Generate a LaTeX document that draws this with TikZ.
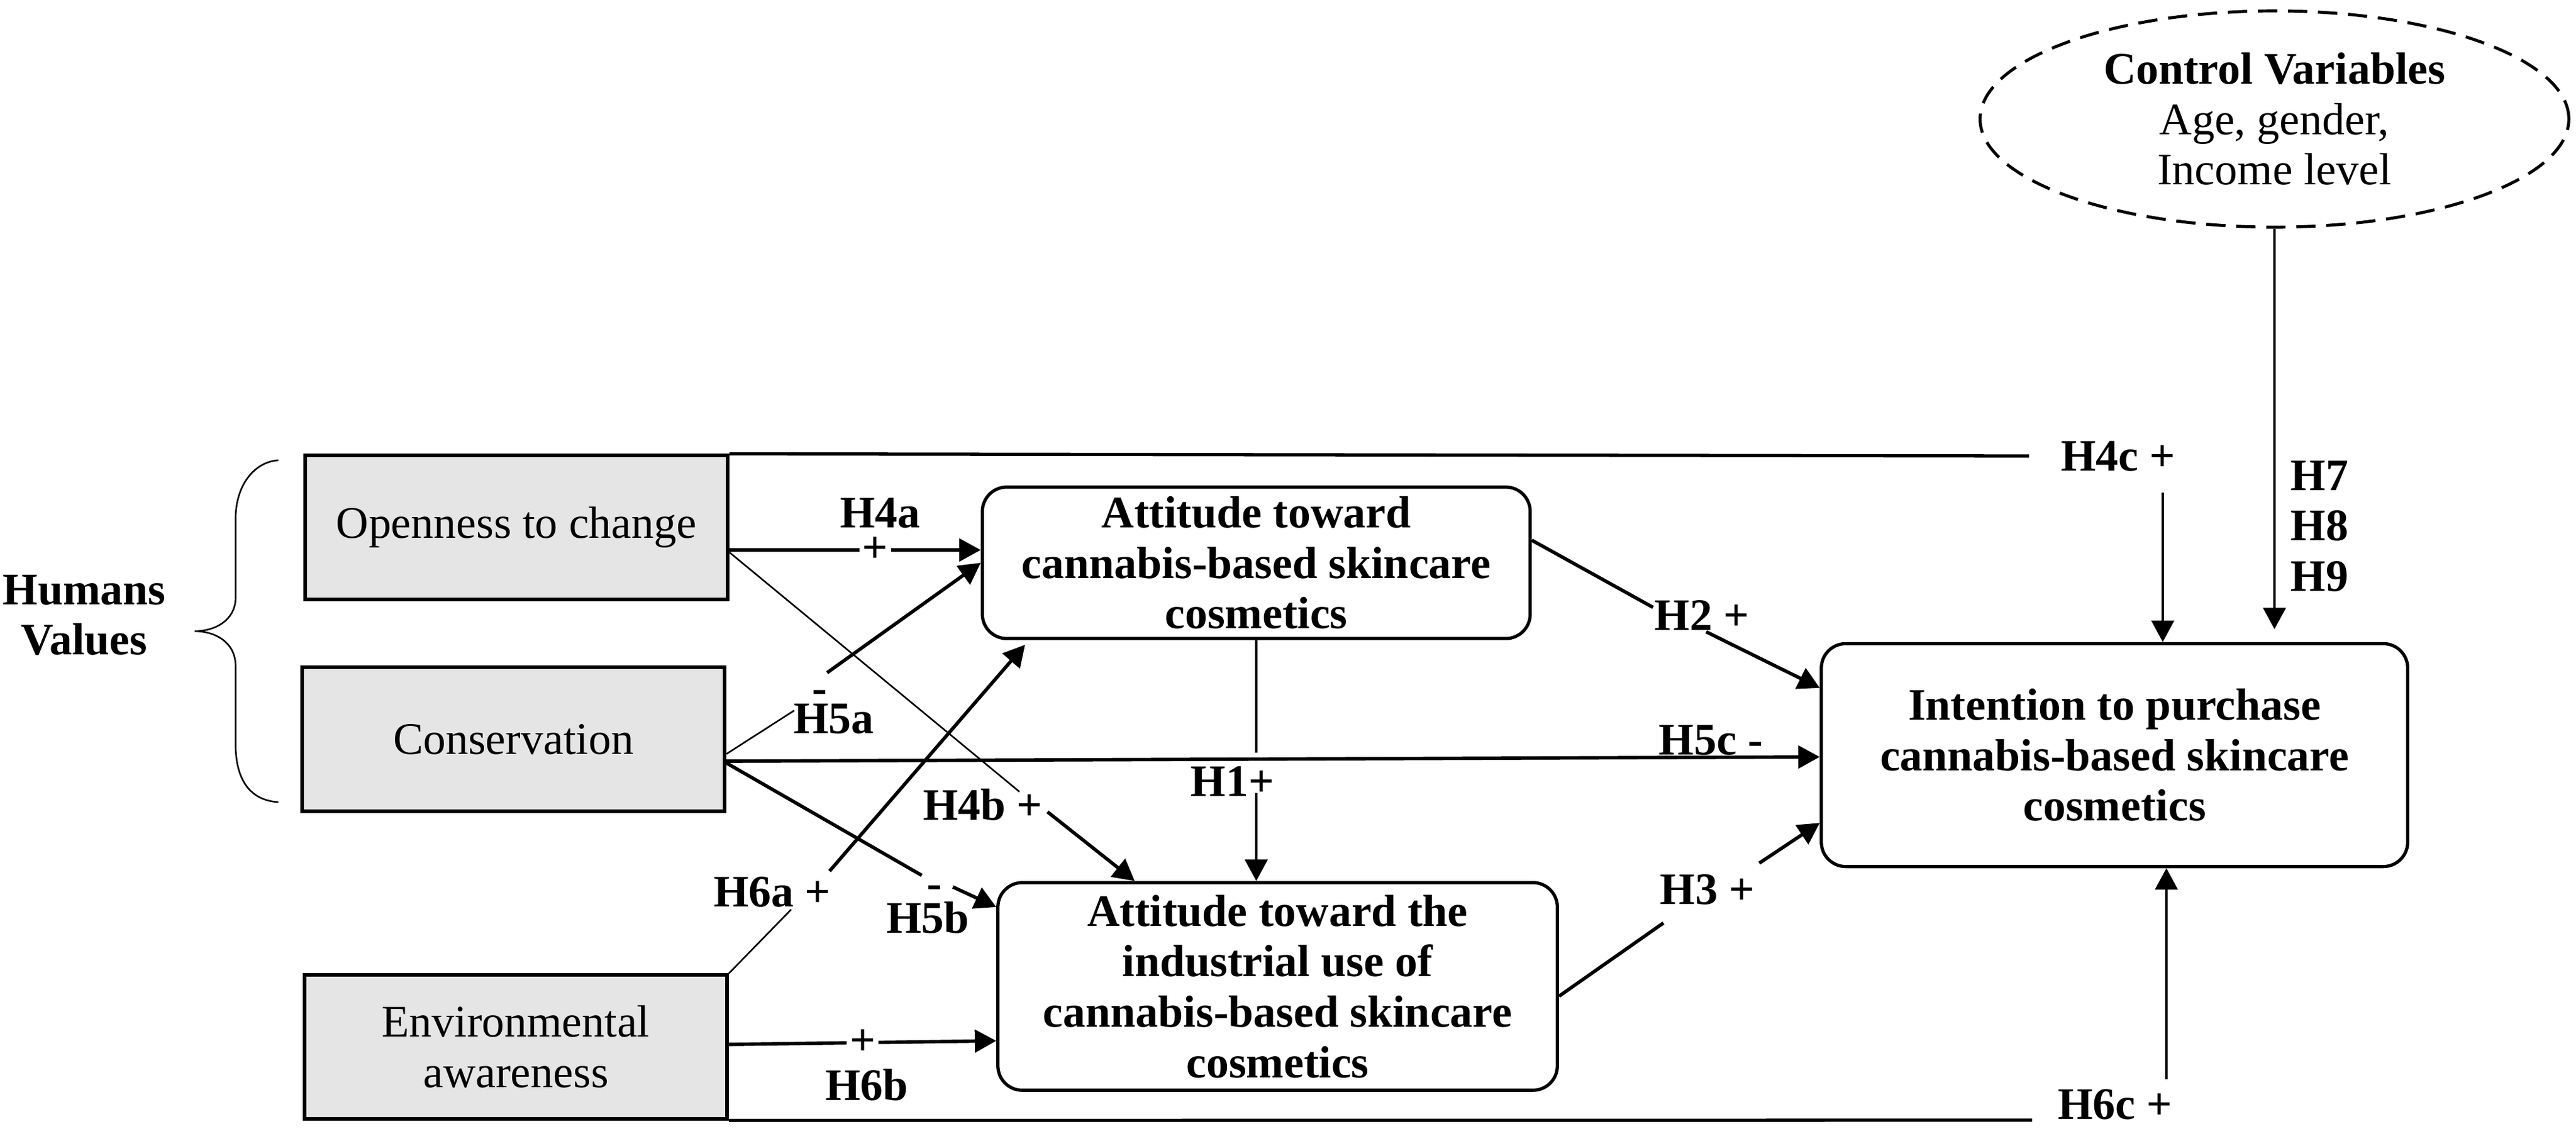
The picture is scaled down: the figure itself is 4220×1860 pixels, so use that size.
\documentclass[tikz,border=0pt]{standalone}
\usepackage{fontspec}
\setmainfont{Liberation Serif}
\usetikzlibrary{shapes.geometric,arrows.meta,calc}
\definecolor{boxgray}{RGB}{229,229,229}
\begin{document}
\begin{tikzpicture}[x=0.01cm,y=-0.01cm,
  every node/.style={font=\fontsize{21}{23.5}\selectfont},
  gbox/.style={draw,line width=1.7pt,fill=boxgray,minimum width=6.92cm,minimum height=2.35cm,inner sep=0pt,align=center},
  rbox/.style={draw,line width=1.5pt,rounded corners=0.4cm,align=center,font=\fontsize{21}{23.5}\selectfont\bfseries,inner sep=0pt},
  lab/.style={font=\fontsize{21}{23.5}\selectfont\bfseries,inner sep=0pt},
  thinln/.style={line width=0.75pt},
  midln/.style={line width=1.1pt},
  lwline/.style={line width=1.5pt},
  thkln/.style={line width=1.6pt},
  arr/.style={-{Triangle[length=10pt,width=10.5pt]}},
  plusmark/.style={lab,fill=white,inner sep=1.5pt},
]
\useasboundingbox (0,0) rectangle (4220,1860);

% nodes
\node[lab,align=center] (hv) at (138,1008) {Humans\\Values};
\node[gbox] (open) at (846,864) {Openness to change};
\node[gbox] (cons) at (841,1211) {Conservation};
\node[gbox] (env) at (845,1715) {Environmental\\awareness};
\node[rbox,minimum width=8.97cm,minimum height=2.48cm] (att1) at (2058,922) {Attitude toward\\cannabis-based skincare\\cosmetics};
\node[rbox,minimum width=9.16cm,minimum height=3.40cm] (att2) at (2093,1616) {Attitude toward the\\industrial use of\\cannabis-based skincare\\cosmetics};
\node[rbox,minimum width=9.60cm,minimum height=3.65cm] (intent) at (3464,1237) {Intention to purchase\\cannabis-based skincare\\cosmetics};
\node[ellipse,draw,line width=1.4pt,dash pattern=on 9pt off 5pt,minimum width=9.64cm,minimum height=3.54cm,inner sep=0pt,align=center] (ctrl) at (3726,195) {\textbf{Control Variables}\\Age, gender,\\Income level};

% brace
\draw[thinln] (456,754) .. controls (420,756) and (388,790) .. (386,845) -- (386,980) .. controls (385,1018) and (350,1034) .. (319,1034) .. controls (350,1034) and (385,1050) .. (386,1090) -- (386,1225) .. controls (388,1290) and (420,1312) .. (456,1314);

% labels
\node[lab] (h4c) at (3470,748) {H4c +};
\node[lab] (h4a) at (1442,841) {H4a};
\node[lab] (h4b) at (1610,1318) {H4b +};
\node[lab] (h5a) at (1366,1178) {H5a};
\node[lab] (m5a) at (1343,1141) {-};
\node[lab] (h5b) at (1520,1503) {H5b};
\node[lab] (m5b) at (1531,1461) {-};
\node[lab] (h5c) at (2803,1213) {H5c -};
\node[lab] (h6a) at (1265,1461) {H6a +};
\node[lab] (h6b) at (1420,1777) {H6b};
\node[lab] (h6c) at (3465,1809) {H6c +};
\node[lab] (h1) at (2019,1280) {H1+};
\node[lab] (h2) at (2788,1008) {H2 +};
\node[lab] (h3) at (2797,1457) {H3 +};
\node[lab,anchor=west,align=left] (h789) at (3752,862) {H7\\H8\\H9};

% break coordinates
\coordinate (h4cL) at (3324,747);
\coordinate (h4cD) at (3543,807);
\coordinate (h4bA) at (1670,1297);
\coordinate (h4bB) at (1716,1330);
\coordinate (h5aA) at (1301,1164);
\coordinate (h5aB) at (1355,1102);
\coordinate (h5bA) at (1510,1434);
\coordinate (h5bB) at (1561,1453);
\coordinate (h6aA) at (1296,1490);
\coordinate (h6aB) at (1359,1427);
\coordinate (h6cL) at (3329,1835);
\coordinate (h6cU) at (3549,1768);
\coordinate (h1A) at (2058,1233);
\coordinate (h1B) at (2058,1299);
\coordinate (h2A) at (2708,995);
\coordinate (h2B) at (2795,1035);
\coordinate (h3A) at (2725,1512);
\coordinate (h3B) at (2882,1414);

% H4c
\draw[lwline] (open.north east) -- (h4cL);
\draw[midln,arr] (h4cD) -- (h4cD |- intent.north);
% H4a
\draw[thkln,arr] ([yshift=-0.37cm]open.east) -- node[pos=0.58,plusmark]{+} ([yshift=0.21cm]att1.west);
% H4b
\draw[thinln] ([yshift=-0.41cm]open.east) -- (h4bA);
\draw[thkln,arr] (h4bB) -- ([xshift=-2.34cm]att2.north);
% H5a
\draw[thinln] ([yshift=-0.24cm]cons.east) -- (h5aA);
\draw[thkln,arr] (h5aB) -- (att1.west);
% H5c
\draw[thkln,arr] ([yshift=-0.36cm]cons.east) -- ([yshift=-0.03cm]intent.west);
% H5b
\draw[thkln] ([yshift=-0.39cm]cons.east) -- (h5bA);
\draw[thkln,arr] (h5bB) -- ([yshift=1.30cm]att2.west);
% H6a
\draw[thinln] (env.north east) -- (h6aA);
\draw[thkln,arr,shorten >=0.1cm] (h6aB) -- ([xshift=-3.72cm]att1.south);
% H6b
\draw[thkln,arr] ([yshift=0.04cm]env.east) -- node[pos=0.5,plusmark]{+} ([yshift=-0.89cm]att2.west);
% H6c
\draw[lwline] (env.south east) -- (h6cL);
\draw[midln,arr] (h6cU) -- (h6cU |- intent.south);
% H1
\draw[midln] (att1.south) -- (h1A);
\draw[midln,arr] (h1B) -- (h1B |- att2.north);
% H2
\draw[thkln] ([yshift=0.37cm]att1.east) -- (h2A);
\draw[thkln,arr] (h2B) -- ([yshift=1.10cm]intent.west);
% H3
\draw[thkln] ([yshift=-0.16cm]att2.east) -- (h3A);
\draw[thkln,arr] (h3B) -- ([yshift=-1.11cm]intent.west);
% Control
\draw[line width=1.2pt,arr,shorten >=0.21cm] (ctrl.south) -- (ctrl.south |- intent.north);
\end{tikzpicture}
\end{document}
